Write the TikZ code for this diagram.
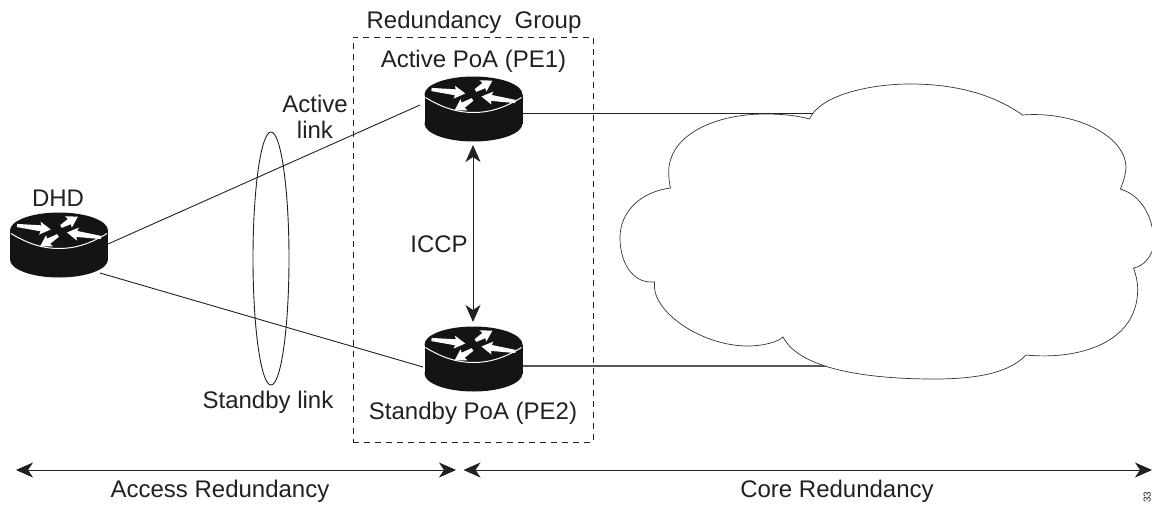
\documentclass[tikz,border=0pt]{standalone}
\usepackage{fontspec}
\setmainfont{Liberation Sans}
\usetikzlibrary{arrows.meta,shapes.geometric}
\definecolor{ink}{gray}{0.13}
\tikzset{
  lbl/.style={inner sep=0pt,anchor=base,font=\fontsize{24}{26}\selectfont,text=ink},
  router/.style={inner sep=0pt,minimum width=98pt,minimum height=65pt,shape=rectangle},
  link/.style={line width=0.9pt,draw=ink},
  heavylink/.style={line width=1.3pt,draw=black!65},
  dbl/.style={line width=1pt,draw=ink,{Stealth[length=17pt,width=15pt,inset=5pt]}-{Stealth[length=17pt,width=15pt,inset=5pt]}}
}
% white tapered arrow: tail x, tail y, page angle, length
\newcommand{\rarr}[4]{%
  \fill[white,shift={(#1,#2)},rotate=#3] (0,-1.6) -- (#4-10,-3) -- (#4-11,-6.5) -- (#4,0) -- (#4-11,6.5) -- (#4-10,3) -- (0,1.6) -- cycle;}
\newcommand{\drawrouter}[2]{%
  \begin{scope}[shift={(#1,#2)}]
    \fill[black!92] (-49,0) rectangle (49,29);
    \fill[black!92] (0,29) ellipse[x radius=49,y radius=18];
    \fill[black!92] (0,0) ellipse[x radius=49,y radius=18];
    \draw[white,line width=1pt] (-48,3) .. controls (-30,14) and (-15,18) .. (0,18) .. controls (15,18) and (30,14) .. (48,3);
    \rarr{-42}{-5}{-6.7}{34}
    \rarr{2}{-4}{30.5}{19.7}
    \rarr{-1}{5}{-148.6}{21}
    \rarr{42}{7}{171.6}{34.4}
  \end{scope}}
\begin{document}
\begin{tikzpicture}[x=1pt,y=-1pt]
\useasboundingbox (0,0) rectangle (1152,504);
\node[router] (dhd) at (59,247) {};
\node[router] (pe1) at (473.5,109) {};
\node[router] (pe2) at (473.5,359) {};
\coordinate (dhdA) at (108,244);
\coordinate (dhdB) at (100,273);
\coordinate (pe1A) at (420,105);
\coordinate (pe2A) at (423,367);
\coordinate (pe1R) at (523,113);
\coordinate (pe2R) at (523,366);
\coordinate (c1) at (815,113);
\coordinate (c2) at (830,366);
\draw[link] (dhdA) -- (pe1A);
\draw[link] (dhdB) -- (pe2A);
\draw[link] (pe1R) -- (c1);
\draw[heavylink] (pe2R) -- (c2);
\drawrouter{59}{230.5}
\drawrouter{473.5}{94.5}
\drawrouter{473.5}{344.5}
% cloud
\path[fill=white,draw=black!80,line width=0.7pt]
 (809.5,119) .. controls (795,115) and (780,114) .. (765,114)
 .. controls (715,114) and (668,135) .. (668.7,173)
 .. controls (668.7,178) and (669.5,183) .. (670.4,188)
 .. controls (640,192) and (620,212) .. (620,238)
 .. controls (620,262) and (632,282) .. (651,282) -- (654.6,282)
 .. controls (650,310) and (700,346) .. (748,346)
 .. controls (763,346) and (778,342) .. (783,337)
 .. controls (800,370) and (870,379) .. (934,379)
 .. controls (980,379) and (1010,372) .. (1026,355)
 .. controls (1075,360) and (1137,345) .. (1137.7,290)
 .. controls (1137.7,282) and (1136,275) .. (1133.5,268)
 .. controls (1145,266) and (1152,255) .. (1154,245)
 .. controls (1154,215) and (1140,195) .. (1120.4,189)
 .. controls (1124,180) and (1126,173) .. (1126,166)
 .. controls (1124,135) and (1075,111) .. (1022.5,115)
 .. controls (990,92) and (950,84) .. (910,84)
 .. controls (870,84) and (820,95) .. (809.5,119) -- cycle;
% group box
\node[draw=ink,dash pattern=on 6pt off 5pt,line width=0.8pt,inner sep=0pt,minimum width=240pt,minimum height=405pt] (grp) at (473,239.5) {};
% ellipse
\node[draw=ink,ellipse,line width=0.9pt,inner sep=0pt,minimum width=36pt,minimum height=253pt] (lag) at (271,258.5) {};
% arrows
\coordinate (i1) at (473,145);
\coordinate (i2) at (473,322);
\draw[dbl] (i1) -- (i2);
\coordinate (a1) at (16,470);
\coordinate (a2) at (456,470);
\coordinate (a3) at (463.5,470);
\coordinate (a4) at (1152,470);
\draw[dbl] (a1) -- (a2);
\draw[dbl] (a3) -- (a4);
% labels
\node[lbl] (t1) at (474,28) {Redundancy\ \ Group};
\node[lbl] (t2) at (473.5,67) {Active PoA (PE1)};
\node[lbl] (t3a) at (315,112) {Active};
\node[lbl] (t3b) at (315,138) {link};
\node[lbl] (t4) at (58,206) {DHD};
\node[lbl] (t5) at (439,252) {ICCP};
\node[lbl] (t6) at (268,408) {Standby link};
\node[lbl] (t7) at (473,419) {Standby PoA (PE2)};
\node[lbl] (t8) at (220,497) {Access Redundancy};
\node[lbl] (t9) at (837,497) {Core Redundancy};
\node[inner sep=0pt,font=\fontsize{10}{11}\selectfont,rotate=90,anchor=base west,text=ink] (t10) at (1150.5,503) {33};
\end{tikzpicture}
\end{document}
